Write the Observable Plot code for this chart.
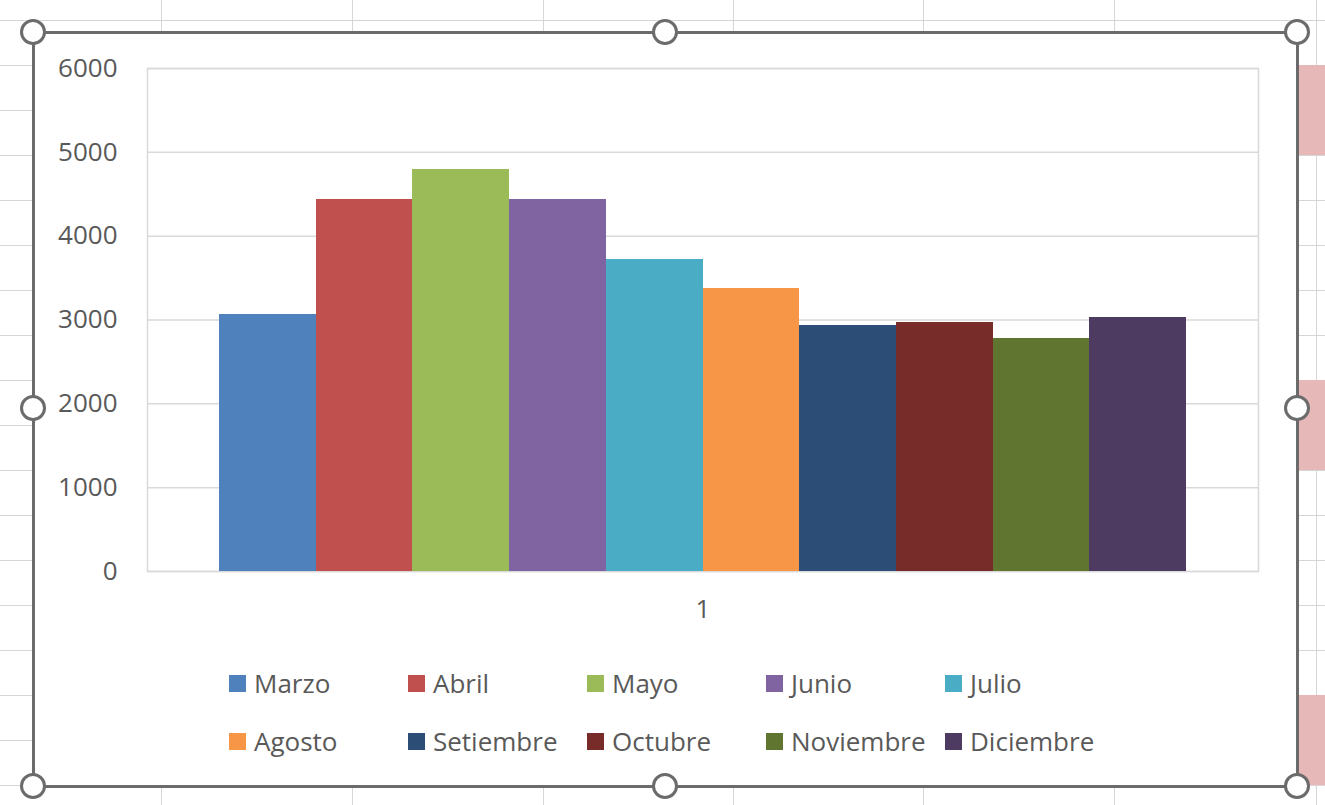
<!DOCTYPE html>
<html>
<head>
<meta charset="utf-8">
<script src="https://cdn.jsdelivr.net/npm/d3@7"></script>
<script src="https://cdn.jsdelivr.net/npm/@observablehq/plot@0.6"></script>
<style>
  html, body { margin: 0; padding: 0; }
  body { width: 1325px; height: 805px; position: relative; overflow: hidden; background: #fff; font-family: "Open Sans", sans-serif; }
  .vline { position: absolute; top: 0; width: 1px; height: 805px; background: #d6d6d6; }
  .hline { position: absolute; left: 0; height: 1px; width: 1325px; background: #d6d6d6; }
  .pink { position: absolute; left: 1298px; width: 27px; background: #e6b9b8; }
  #chartbox { position: absolute; background: #fff; border: 3px solid #6b6b6b; box-sizing: border-box; left: 32px; top: 31px; width: 1267px; height: 757px; }
  #plot { position: absolute; left: 0; top: 0; }
  .handle { position: absolute; width: 20px; height: 20px; border-radius: 50%; background: #fff; border: 3px solid #6b6b6b; transform: translate(-50%, -50%); box-sizing: content-box; }
  #legend { position: absolute; left: 229px; top: 654px; display: grid; grid-template-columns: repeat(5, 179px); grid-auto-rows: 58px; color: #595959; font-size: 26px; }
  .item { display: flex; align-items: center; white-space: nowrap; }
  .sw { width: 17px; height: 17px; margin-right: 8px; flex: none; }
</style>
</head>
<body>
<div id="bg"></div>
<div id="chartbox"></div>
<div id="plot"></div>
<div id="legend"></div>
<div id="handles"></div>
<script>
// ---- data ----
const categories = ["1"];
const months = ["Marzo", "Abril", "Mayo", "Junio", "Julio", "Agosto", "Setiembre", "Octubre", "Noviembre", "Diciembre"];
const values = [3060, 4440, 4790, 4440, 3720, 3370, 2935, 2965, 2775, 3030];
const colors = ["#4F81BD", "#C0504D", "#9BBB59", "#8064A2", "#4BACC6", "#F79646", "#2C4D75", "#772C2A", "#5F7530", "#4D3B62"];
const yTicks = [0, 1000, 2000, 3000, 4000, 5000, 6000];

// ---- spreadsheet background (decoration) ----
const bg = document.getElementById("bg");
[161, 352, 543, 733, 923, 1114, 1316].forEach(x => {
  const d = document.createElement("div"); d.className = "vline"; d.style.left = x + "px"; bg.appendChild(d);
});
for (let y = 20; y < 805; y += 45) {
  const d = document.createElement("div"); d.className = "hline"; d.style.top = y + "px"; bg.appendChild(d);
}
[[65, 90], [380, 90], [695, 90]].forEach(([t, h]) => {
  const d = document.createElement("div"); d.className = "pink"; d.style.top = t + "px"; d.style.height = h + "px"; bg.appendChild(d);
});

// ---- chart ----
const data = months.map((m, i) => ({cat: categories[0], month: m, value: values[i]}));

const chart = Plot.plot({
  width: 1325,
  height: 640,
  marginLeft: 147,
  marginRight: 67,
  marginTop: 68,
  marginBottom: 69,
  style: {fontFamily: "'Open Sans', sans-serif", fontSize: "26px", color: "#595959", background: "transparent", overflow: "visible"},
  fx: {domain: categories, padding: 0, label: null, round: false},
  x: {domain: months, paddingInner: 0, paddingOuter: 0.744, axis: null, round: false},
  y: {domain: [0, 6000], label: null},
  color: {domain: months, range: colors},
  marks: [
    Plot.gridY(yTicks, {stroke: "#d9d9d9", strokeOpacity: 1, strokeWidth: 1.5}),
    Plot.frame({stroke: "#d9d9d9", strokeWidth: 1.5}),
    Plot.barY(data, {fx: "cat", x: "month", y: "value", fill: "month", shapeRendering: "crispEdges"}),
    Plot.axisY(yTicks, {tickSize: 0, tickPadding: 30, label: null, fontSize: 26, tickFormat: d => String(d)}),
    Plot.axisFx({anchor: "bottom", tickSize: 0, tickPadding: 28, label: null, fontSize: 26})
  ]
});
document.getElementById("plot").appendChild(chart);

// ---- legend ----
const legend = document.getElementById("legend");
months.forEach((m, i) => {
  const it = document.createElement("div"); it.className = "item";
  const sw = document.createElement("span"); sw.className = "sw"; sw.style.background = colors[i];
  const tx = document.createElement("span"); tx.textContent = m;
  it.appendChild(sw); it.appendChild(tx); legend.appendChild(it);
});

// ---- selection handles (decoration) ----
const hs = document.getElementById("handles");
[[33, 32], [665, 32], [1297, 32], [33, 408], [1297, 408], [33, 786], [665, 786], [1297, 786]].forEach(([x, y]) => {
  const d = document.createElement("div"); d.className = "handle"; d.style.left = x + "px"; d.style.top = y + "px"; hs.appendChild(d);
});
</script>
</body>
</html>
